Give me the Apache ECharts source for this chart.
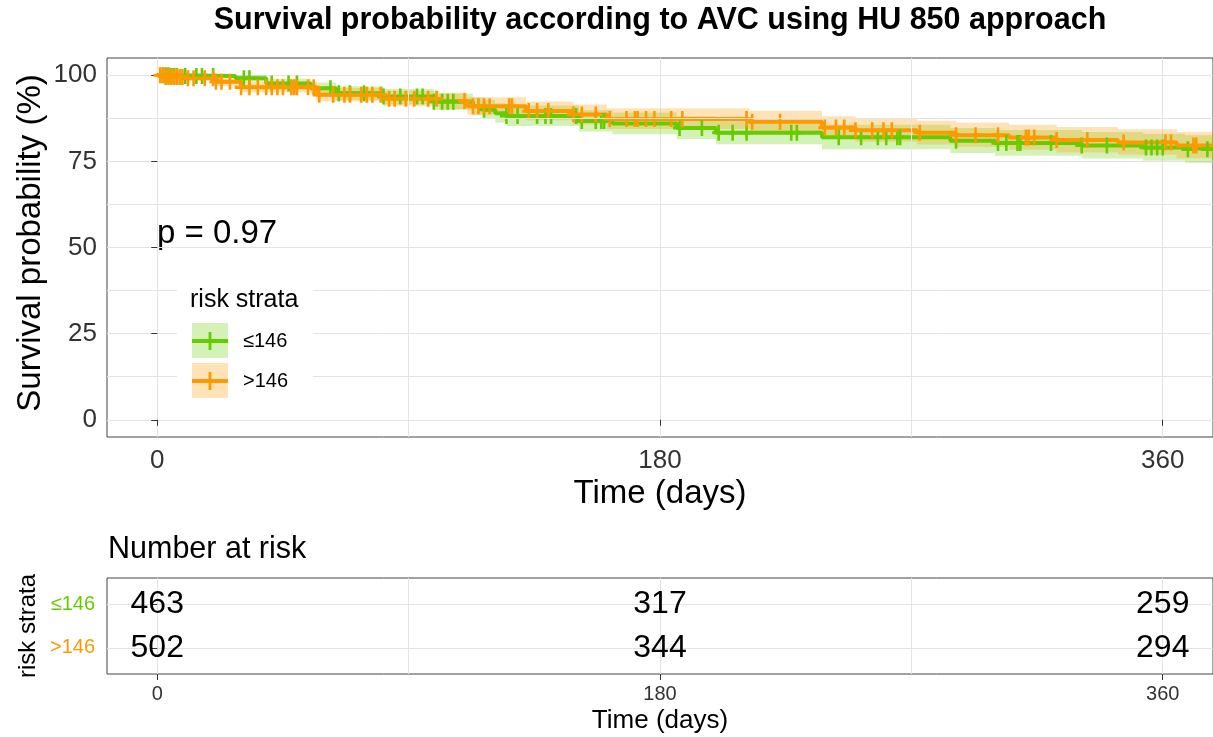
<!DOCTYPE html>
<html>
<head>
<meta charset="utf-8">
<script src="https://cdn.jsdelivr.net/npm/echarts@6/dist/echarts.min.js"></script>
<style>
  html, body { margin: 0; padding: 0; background: #fff; }
  #chart { width: 1213px; height: 737px; }
</style>
</head>
<body>
<div id="chart"></div>
<script>
// survival steps (time in days, survival in %)
const lowTimes = [0, 5, 28, 39, 55, 64, 81, 99, 113, 117, 121, 125, 151, 163, 186, 200, 238, 284, 300, 331, 353, 368, 378];
const lowSurv  = [100, 99.8, 99.1, 97.6, 96.2, 94.8, 93.8, 92.3, 91.0, 90.0, 89.0, 88.2, 86.7, 86.0, 84.7, 83.3, 82.0, 81.0, 80.3, 79.6, 79.0, 78.5, 78.5];
const lowLower = [100, 99.4, 98.2, 96.3, 94.5, 92.8, 91.6, 89.9, 88.4, 87.3, 86.2, 85.3, 83.7, 82.9, 81.5, 80.0, 78.5, 77.4, 76.6, 75.8, 75.2, 74.6, 74.6];
const lowUpper = [100, 100, 100, 99.0, 97.9, 96.8, 96.0, 94.7, 93.6, 92.8, 91.9, 91.2, 89.8, 89.2, 88.1, 86.8, 85.6, 84.7, 84.1, 83.5, 83.0, 82.6, 82.6];

const highTimes = [0, 3, 10, 21, 30, 57, 81, 101, 111, 132, 149, 161, 212, 238, 250, 272, 286, 305, 322, 344, 365, 378];
const highSurv  = [100, 99.5, 99.1, 98.1, 96.5, 94.3, 93.2, 92.5, 91.0, 89.6, 88.6, 87.3, 86.5, 84.8, 84.0, 83.3, 82.6, 81.9, 81.2, 80.5, 79.6, 79.6];
const highLower = [100, 99.0, 98.3, 96.9, 95.0, 92.4, 91.0, 90.2, 88.5, 86.9, 85.7, 84.4, 83.4, 81.6, 80.7, 79.9, 79.2, 78.4, 77.6, 76.9, 75.9, 75.9];
const highUpper = [100, 100, 99.9, 99.3, 98.1, 96.3, 95.4, 94.9, 93.6, 92.4, 91.5, 90.4, 89.7, 88.1, 87.4, 86.8, 86.2, 85.6, 85.0, 84.3, 83.5, 83.5];

// censoring times
const lowCensor = [2, 3, 4, 5, 6, 7, 10, 14, 16, 20, 31, 33, 41, 47, 50, 62, 65, 69, 74, 81, 87, 93, 95, 99, 102, 104, 106, 117, 125, 129, 136, 139, 141, 150, 152, 157, 159, 160, 187, 195, 201, 206, 211, 227, 229, 244, 252, 258, 261, 265, 266, 286, 301, 304, 308, 309, 320, 331, 340, 354, 356, 358, 360, 369, 376];
const highCensor = [1, 2, 3, 4, 5, 6, 7, 8, 9, 11, 13, 17, 20, 21, 23, 26, 30, 33, 36, 39, 41, 43, 45, 48, 49, 50, 54, 56, 58, 63, 67, 69, 73, 75, 77, 80, 83, 85, 89, 92, 97, 100, 110, 113, 115, 117, 119, 126, 127, 133, 136, 140, 149, 152, 157, 162, 168, 171, 172, 175, 178, 184, 188, 211, 213, 223, 239, 243, 246, 250, 256, 260, 263, 273, 286, 293, 301, 311, 312, 314, 322, 333, 346, 361, 363, 371, 372];

// number at risk
const riskTimes = [0, 180, 360];
const riskLow = [463, 317, 259];
const riskHigh = [502, 344, 294];

// axis breaks
const xMajor = [0, 180, 360];
const xMinor = [90, 270];
const yMajor = [0, 25, 50, 75, 100];
const yMinor = [12.5, 37.5, 62.5, 87.5];

const GREEN = '#66CC00';
const ORANGE = '#FF9900';
const FONT = "'Liberation Sans', Arial, sans-serif";
const PLUS = 'path://M4,0H6V4H10V6H6V10H4V6H0V4H4Z';
const gridColor = '#e3e3e3';
const tickColor = '#333';

function pairs(xs, ys) {
  return xs.map((t, i) => [t, ys[i]]);
}
function stepAt(times, surv, t) {
  let v = surv[0];
  for (let i = 0; i < times.length; i++) {
    if (times[i] <= t) v = surv[i];
  }
  return v;
}
function minorLines(xs, ys) {
  return {
    silent: true, symbol: 'none', animation: false,
    label: { show: false },
    lineStyle: { color: gridColor, type: 'solid', width: 1 },
    data: xs.map(v => ({ xAxis: v })).concat(ys.map(v => ({ yAxis: v })))
  };
}
// confidence band drawn as one stepped polygon through the axis scales
function bandSeries(times, lo, hi, color, withGrid) {
  const s = {
    type: 'custom', xAxisIndex: 0, yAxisIndex: 0,
    data: [[times[0], lo[0]]], silent: true, z: 1,
    renderItem: function (params, api) {
      const top = [], bottom = [];
      for (let i = 0; i < times.length; i++) {
        const tNext = i < times.length - 1 ? times[i + 1] : times[i];
        top.push(api.coord([times[i], hi[i]]), api.coord([tNext, hi[i]]));
        bottom.push(api.coord([times[i], lo[i]]), api.coord([tNext, lo[i]]));
      }
      return {
        type: 'polygon',
        shape: { points: top.concat(bottom.reverse()) },
        style: { fill: color, opacity: 0.28 }
      };
    }
  };
  if (withGrid) s.markLine = minorLines(xMinor, yMinor);
  return s;
}
function curveSeries(times, surv, color) {
  return {
    type: 'line', step: 'end', xAxisIndex: 0, yAxisIndex: 0,
    data: pairs(times, surv), symbol: 'none',
    lineStyle: { color: color, width: 4 }, z: 3
  };
}
function censorSeries(cens, times, surv, color) {
  return {
    type: 'scatter', xAxisIndex: 0, yAxisIndex: 0,
    data: cens.map(t => [t, stepAt(times, surv, t)]),
    symbol: PLUS, symbolSize: [13, 16],
    itemStyle: { color: color, opacity: 1 }, z: 4
  };
}

const riskData = [];
riskTimes.forEach((t, i) => {
  riskData.push([t, 2, riskLow[i]]);
  riskData.push([t, 1, riskHigh[i]]);
});

const chart = echarts.init(document.getElementById('chart'), null, { renderer: 'canvas' });

const option = {
  backgroundColor: '#fff',
  animation: false,
  textStyle: { fontFamily: FONT },
  grid: [
    { left: 107, top: 58, right: -1, bottom: 300, show: true, borderColor: '#444', borderWidth: 1, backgroundColor: 'transparent' },
    { left: 107, top: 578, right: -1, bottom: 63, show: true, borderColor: '#444', borderWidth: 1, backgroundColor: 'transparent' }
  ],
  xAxis: [
    {
      type: 'value', gridIndex: 0, min: -18, max: 378, interval: 90,
      axisLine: { show: false },
      axisTick: { show: true, length: 6, lineStyle: { color: tickColor }, customValues: xMajor },
      axisLabel: { fontSize: 26, color: '#333', margin: 11, fontFamily: FONT, customValues: xMajor },
      splitLine: { show: true, lineStyle: { color: gridColor, width: 1 } }
    },
    {
      type: 'value', gridIndex: 1, min: -18, max: 378, interval: 90,
      axisLine: { show: false },
      axisTick: { show: true, length: 6, lineStyle: { color: tickColor }, customValues: xMajor },
      axisLabel: { fontSize: 20, color: '#333', margin: 10, fontFamily: FONT, customValues: xMajor },
      splitLine: { show: true, lineStyle: { color: gridColor, width: 1 } }
    }
  ],
  yAxis: [
    {
      type: 'value', gridIndex: 0, min: -5, max: 105, interval: 12.5,
      axisLine: { show: false },
      axisTick: { show: true, length: 6, lineStyle: { color: tickColor }, customValues: yMajor },
      axisLabel: { fontSize: 26, color: '#333', margin: 10, fontFamily: FONT, customValues: yMajor },
      splitLine: { show: true, lineStyle: { color: gridColor, width: 1 } }
    },
    {
      type: 'value', gridIndex: 1, min: 0.4, max: 2.6, interval: 1,
      axisLine: { show: false },
      axisTick: { show: true, length: 6, lineStyle: { color: tickColor }, customValues: [1, 2] },
      axisLabel: {
        fontSize: 20, margin: 12, fontFamily: FONT, customValues: [1, 2],
        formatter: v => (v === 2 ? '{g|≤146}' : v === 1 ? '{o|>146}' : ''),
        rich: {
          g: { color: GREEN, fontSize: 20, fontFamily: FONT },
          o: { color: ORANGE, fontSize: 20, fontFamily: FONT }
        }
      },
      splitLine: { show: true, lineStyle: { color: gridColor, width: 1 } }
    }
  ],
  series: [
    bandSeries(lowTimes, lowLower, lowUpper, GREEN, true),
    bandSeries(highTimes, highLower, highUpper, ORANGE, false),
    curveSeries(lowTimes, lowSurv, GREEN),
    censorSeries(lowCensor, lowTimes, lowSurv, GREEN),
    curveSeries(highTimes, highSurv, ORANGE),
    censorSeries(highCensor, highTimes, highSurv, ORANGE),
    {
      type: 'custom', xAxisIndex: 1, yAxisIndex: 1,
      data: riskData, z: 5,
      markLine: minorLines(xMinor, []),
      renderItem: function (params, api) {
        const p = api.coord([api.value(0), api.value(1)]);
        return {
          type: 'text', x: p[0], y: p[1],
          style: { text: String(api.value(2)), font: '32px ' + FONT, fill: '#000', align: 'center', verticalAlign: 'middle' }
        };
      }
    }
  ],
  graphic: [
    { type: 'text', x: 660, y: 21, style: { text: 'Survival probability according to AVC using HU 850 approach', font: 'bold 30.5px ' + FONT, fill: '#000', align: 'center', verticalAlign: 'middle' } },
    { type: 'text', x: 31, y: 243, rotation: Math.PI / 2, style: { text: 'Survival probability (%)', font: '33px ' + FONT, fill: '#000', align: 'center', verticalAlign: 'middle' } },
    { type: 'text', x: 660, y: 494, style: { text: 'Time (days)', font: '33px ' + FONT, fill: '#000', align: 'center', verticalAlign: 'middle' } },
    { type: 'text', x: 157, y: 234, style: { text: 'p = 0.97', font: '33px ' + FONT, fill: '#000', align: 'left', verticalAlign: 'middle' } },
    // legend
    { type: 'rect', shape: { x: 177, y: 280, width: 136, height: 125 }, style: { fill: '#fff' }, z: 10 },
    { type: 'text', x: 190, y: 300, z: 11, style: { text: 'risk strata', font: '25px ' + FONT, fill: '#000', align: 'left', verticalAlign: 'middle' } },
    { type: 'rect', z: 11, shape: { x: 192, y: 323, width: 36, height: 35 }, style: { fill: GREEN, opacity: 0.28 } },
    { type: 'line', z: 12, shape: { x1: 192, y1: 341, x2: 228, y2: 341 }, style: { stroke: GREEN, lineWidth: 4 } },
    { type: 'line', z: 12, shape: { x1: 210, y1: 332, x2: 210, y2: 350 }, style: { stroke: GREEN, lineWidth: 2.8 } },
    { type: 'text', x: 243, y: 341, z: 11, style: { text: '≤146', font: '20px ' + FONT, fill: '#000', align: 'left', verticalAlign: 'middle' } },
    { type: 'rect', z: 11, shape: { x: 192, y: 363, width: 36, height: 35 }, style: { fill: ORANGE, opacity: 0.28 } },
    { type: 'line', z: 12, shape: { x1: 192, y1: 381, x2: 228, y2: 381 }, style: { stroke: ORANGE, lineWidth: 4 } },
    { type: 'line', z: 12, shape: { x1: 210, y1: 372, x2: 210, y2: 390 }, style: { stroke: ORANGE, lineWidth: 2.8 } },
    { type: 'text', x: 243, y: 381, z: 11, style: { text: '>146', font: '20px ' + FONT, fill: '#000', align: 'left', verticalAlign: 'middle' } },
    // risk table texts
    { type: 'text', x: 108, y: 550, style: { text: 'Number at risk', font: '30.5px ' + FONT, fill: '#000', align: 'left', verticalAlign: 'middle' } },
    { type: 'text', x: 28, y: 626, rotation: Math.PI / 2, style: { text: 'risk strata', font: '24px ' + FONT, fill: '#000', align: 'center', verticalAlign: 'middle' } },
    { type: 'text', x: 660, y: 721, style: { text: 'Time (days)', font: '26px ' + FONT, fill: '#000', align: 'center', verticalAlign: 'middle' } }
  ]
};

chart.setOption(option);
</script>
</body>
</html>
